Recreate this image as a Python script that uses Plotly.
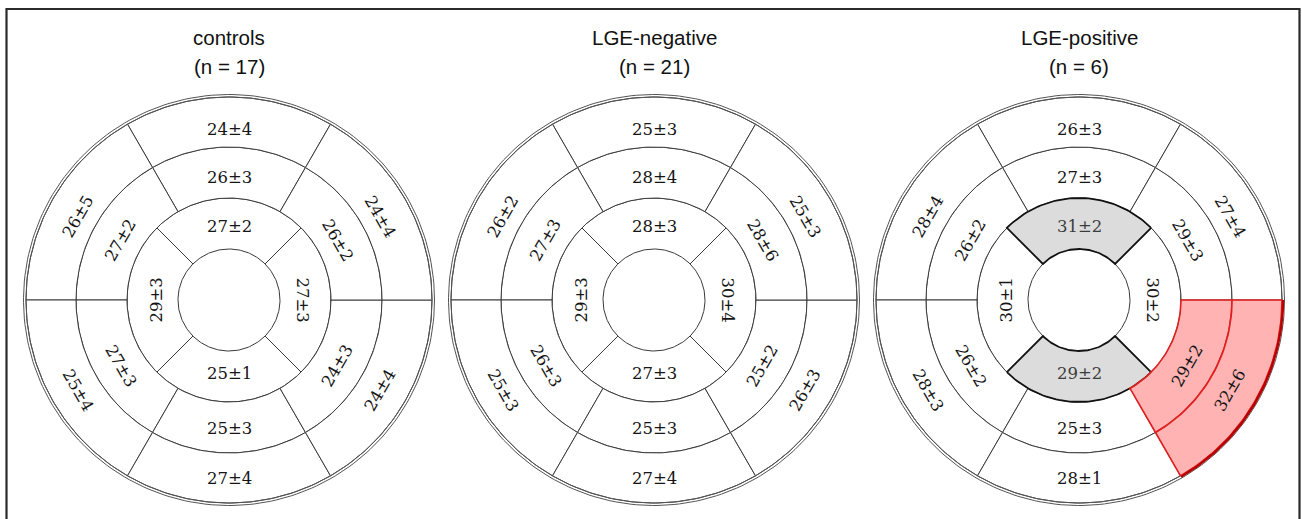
import numpy as np
import plotly.graph_objects as go

# Group titles
groups = ["controls", "LGE-negative", "LGE-positive"]
group_n = [17, 21, 6]

# Segment order per ring: counter-clockwise starting from the top segment
basal_angles = [90, 150, 210, 270, 330, 30]
mid_angles = [90, 150, 210, 270, 330, 30]
apical_angles = [90, 180, 270, 0]

# Mean and SD per segment for each group
basal_mean = [[24, 26, 25, 27, 24, 24], [25, 26, 25, 27, 26, 25], [26, 28, 28, 28, 32, 27]]
basal_sd = [[4, 5, 4, 4, 4, 4], [3, 2, 3, 4, 3, 3], [3, 4, 3, 1, 6, 4]]
mid_mean = [[26, 27, 27, 25, 24, 26], [28, 27, 26, 25, 25, 28], [27, 26, 26, 25, 29, 29]]
mid_sd = [[3, 2, 3, 3, 3, 2], [4, 3, 3, 3, 2, 6], [3, 2, 2, 3, 2, 3]]
apical_mean = [[27, 29, 25, 27], [28, 29, 27, 30], [31, 30, 29, 30]]
apical_sd = [[2, 3, 1, 3], [3, 3, 3, 4], [2, 1, 2, 2]]

# Highlighted segments (group index, ring, segment index)
gray_segments = [(2, "apical", 0), (2, "apical", 2)]
red_segments = [(2, "mid", 4), (2, "basal", 4)]

W, H = 1302, 519
centers_x = [229, 654, 1079]
center_y = 300
R0, R1, R2, R3 = 51, 102, 153, 203

# ring: inner radius, outer radius, angles, width, means, sds, label radius, label drop
rings = {
    "apical": (R0, R1, apical_angles, 90, apical_mean, apical_sd, 73.5, 0.0),
    "mid": (R1, R2, mid_angles, 60, mid_mean, mid_sd, 125.5, 3.2),
    "basal": (R2, R3, basal_angles, 60, basal_mean, basal_sd, 174.5, 3.5),
}

LINE = "#3a3a3a"
fig = go.Figure()


def sector(cx, r_in, r_out, a0, a1, n=60):
    t = np.radians(np.linspace(a0, a1, n))
    xo = cx + r_out * np.cos(t)
    yo = center_y - r_out * np.sin(t)
    xi = cx + r_in * np.cos(t[::-1])
    yi = center_y - r_in * np.sin(t[::-1])
    x = np.concatenate([xo, xi, xo[:1]])
    y = np.concatenate([yo, yi, yo[:1]])
    return x, y


def arc(cx, r, a0=0, a1=360, n=240):
    t = np.radians(np.linspace(a0, a1, n))
    return cx + r * np.cos(t), center_y - r * np.sin(t)


def text_angle(theta):
    theta = theta % 360
    if theta <= 180:
        return 90 - theta
    return 270 - theta


annotations = []
highlight_traces = []
for g, cx in enumerate(centers_x):
    for ring, (ri, ro, angles, width, means, sds, rl, drop) in rings.items():
        for k, th in enumerate(angles):
            a0, a1 = th - width / 2, th + width / 2
            x, y = sector(cx, ri, ro, a0, a1)
            style = dict(fill="toself", fillcolor="white", line=dict(color=LINE, width=1))
            tcolor = "#151515"
            if (g, ring, k) in gray_segments:
                style = dict(fill="toself", fillcolor="#dcdcdc", line=dict(color="#111111", width=1.8))
                tcolor = "#3c3c3c"
            elif (g, ring, k) in red_segments:
                style = dict(fill="toself", fillcolor="rgba(255,150,150,0.72)",
                             line=dict(color="#e02020", width=1.6))
            tr = go.Scatter(x=x, y=y, mode="lines", hoverinfo="skip", showlegend=False, **style)
            if style["fillcolor"] == "white":
                fig.add_trace(tr)
            else:
                highlight_traces.append(tr)
            t = np.radians(th)
            annotations.append(dict(
                x=cx + rl * np.cos(t), y=center_y - rl * np.sin(t) + drop,
                xref="x", yref="y", showarrow=False,
                text=f"{means[g][k]}±{sds[g][k]}", textangle=text_angle(th),
                font=dict(family="DejaVu Serif", size=16.5, color=tcolor),
                xanchor="center", yanchor="middle",
            ))
    # double outer rim
    for r in (R3, R3 + 2.5):
        x, y = arc(cx, r)
        fig.add_trace(go.Scatter(x=x, y=y, mode="lines", line=dict(color="#555555", width=1),
                                 hoverinfo="skip", showlegend=False))
    # titles
    annotations.append(dict(x=cx, y=37, xref="x", yref="y", showarrow=False, text=groups[g],
                            font=dict(family="Liberation Sans", size=20.5, color="#111111")))
    annotations.append(dict(x=cx, y=66, xref="x", yref="y", showarrow=False,
                            text=f"(n = {group_n[g]})",
                            font=dict(family="Liberation Sans", size=20.5, color="#111111")))

for tr in highlight_traces:
    fig.add_trace(tr)

# dark red outer edge of the highlighted basal segment
for (g, ring, k) in red_segments:
    if ring == "basal":
        th = basal_angles[k]
        x, y = arc(centers_x[g], R3 + 1.0, th - 30, th + 30, 80)
        fig.add_trace(go.Scatter(x=x, y=y, mode="lines", line=dict(color="#b80000", width=2.4),
                                 hoverinfo="skip", showlegend=False))

fig.update_layout(
    width=W, height=H, margin=dict(l=0, r=0, t=0, b=0),
    paper_bgcolor="white", plot_bgcolor="white",
    xaxis=dict(range=[0, W], visible=False, fixedrange=True),
    yaxis=dict(range=[H, 0], visible=False, fixedrange=True),
    annotations=annotations,
    shapes=[dict(type="rect", xref="x", yref="y", x0=6.5, y0=9, x1=1299.5, y1=H + 10,
                 line=dict(color="#2a2a2a", width=2.2))],
    showlegend=False,
)

fig.write_html("out.html")
